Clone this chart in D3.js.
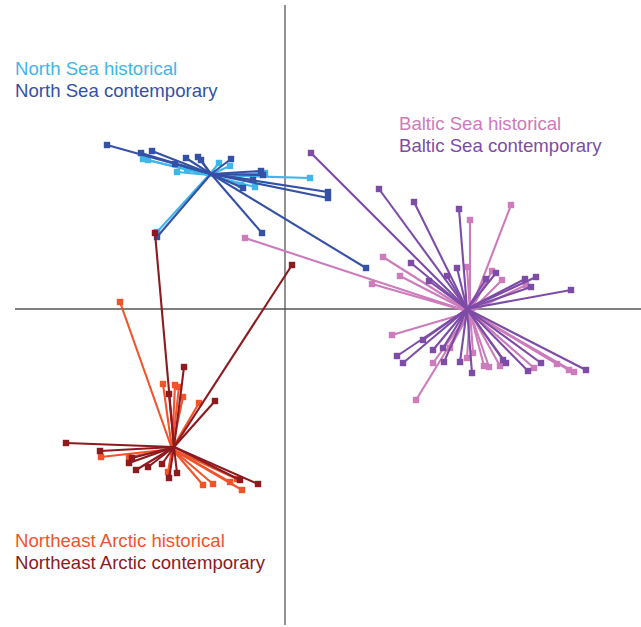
<!DOCTYPE html>
<html>
<head>
<meta charset="utf-8">
<script src="https://cdn.jsdelivr.net/npm/d3@7"></script>
<style>
  html, body { margin: 0; padding: 0; background: #fff; }
  svg { display: block; }
  text { font-family: "Liberation Sans", Arial, Helvetica, sans-serif; }
</style>
</head>
<body>
<svg id="chart" width="641" height="627"></svg>
<script>
// Ordination scores: each group is drawn as spokes from its centroid to individual samples.
const groups = ["North Sea historical", "North Sea contemporary",
                "Baltic Sea historical", "Baltic Sea contemporary",
                "Northeast Arctic historical", "Northeast Arctic contemporary"];

const colors = ["#3fb6e8", "#3551a6", "#cc7bbb", "#7d4ca7", "#f2532a", "#8c1a1f"];

const centroids = [[-7.6, 13.4], [-7.4, 13.5], [18.5, -0.3], [18.2, 0.0], [-11.3, -14.0], [-11.1, -13.8]];

const northSeaHistorical = [
  [-14.2, 15.0], [-13.7, 14.9], [-10.8, 13.7], [-9.8, 13.9], [-5.5, 14.3], [-4.4, 12.4],
  [-3.0, 12.2], [-2.0, 13.6], [2.5, 13.1], [-12.8, 7.7], [-6.6, 14.6]
];
const northSeaContemporary = [
  [-17.8, 16.4], [-14.4, 15.6], [-13.3, 15.8], [-11.0, 14.5], [-9.9, 15.1], [-8.7, 15.2],
  [-5.4, 15.0], [-2.4, 13.8], [-3.2, 12.9], [-4.2, 12.1], [4.3, 11.7], [4.3, 11.1],
  [-2.3, 7.6], [-12.8, 7.2], [8.1, 4.1], [-8.4, 14.9], [-2.2, 13.4]
];
const balticHistorical = [
  [-4.0, 7.1], [22.6, 10.4], [18.5, 8.9], [9.8, 5.2], [11.5, 3.3], [8.7, 2.5],
  [18.2, 4.2], [20.7, 3.8], [21.7, 2.9], [24.1, 2.4], [10.7, -2.6], [14.8, -5.4],
  [16.5, -3.9], [18.2, -4.9], [18.8, -4.4], [19.9, -5.7], [20.4, -5.8], [21.5, -5.7],
  [24.9, -5.9], [27.2, -5.5], [28.4, -6.1], [28.9, -6.3], [13.1, -9.1]
];
const balticContemporary = [
  [2.6, 15.6], [9.4, 12.0], [12.9, 10.7], [17.4, 10.0], [12.6, 4.6], [14.4, 2.8],
  [16.2, 3.3], [17.2, 4.1], [20.1, 3.0], [21.1, 3.6], [24.0, 3.0], [25.1, 3.2],
  [24.6, 2.2], [28.6, 1.9], [11.2, -4.7], [11.8, -5.4], [13.8, -3.1], [14.8, -4.1],
  [15.8, -3.9], [15.9, -5.3], [17.5, -5.3], [18.7, -6.4], [21.8, -5.1], [22.1, -5.4],
  [25.6, -5.4], [24.3, -6.2], [30.1, -6.1]
];
const arcticHistorical = [
  [-16.5, 0.7], [-12.2, -7.5], [-11.0, -7.6], [-10.6, -7.8], [-10.2, -8.8], [-8.6, -9.4],
  [-18.4, -14.8], [-15.6, -14.8], [-11.7, -16.3], [-8.2, -17.6], [-7.2, -17.5],
  [-4.3, -18.1], [-4.8, -17.0], [-5.5, -17.3]
];
const arcticContemporary = [
  [-13.0, 7.6], [0.7, 4.4], [-10.1, -5.8], [-11.6, -8.5], [-7.0, -9.2], [-21.9, -13.4],
  [-18.5, -14.2], [-15.6, -15.4], [-14.9, -16.1], [-13.7, -15.8], [-12.3, -15.5],
  [-11.6, -16.9], [-10.8, -16.4], [-2.7, -17.5], [-4.5, -17.1], [-15.3, -14.9]
];

const samples = [northSeaHistorical, northSeaContemporary, balticHistorical,
                 balticContemporary, arcticHistorical, arcticContemporary];

// Legend label anchors (in score units)
const labelPos = [[-27, 23.4], [-27, 21.2], [11.4, 17.9], [11.4, 15.7], [-27, -23.8], [-27, -26.0]];

const svg = d3.select("#chart");
const x = d3.scaleLinear().domain([-27, 35.6]).range([15, 641]);
const y = d3.scaleLinear().domain([30.4, -31.6]).range([5, 625]);

// Axes through the origin
svg.append("line")
  .attr("x1", x(0)).attr("x2", x(0)).attr("y1", y(30.4)).attr("y2", y(-31.6))
  .attr("stroke", "#555").attr("stroke-width", 1.3);
svg.append("line")
  .attr("x1", x(-27)).attr("x2", x(35.6)).attr("y1", y(0)).attr("y2", y(0))
  .attr("stroke", "#555").attr("stroke-width", 1.3);

groups.forEach((g, i) => {
  const c = centroids[i];
  const layer = svg.append("g").attr("class", "group");
  layer.selectAll("line").data(samples[i]).join("line")
    .attr("x1", x(c[0])).attr("y1", y(c[1]))
    .attr("x2", d => x(d[0])).attr("y2", d => y(d[1]))
    .attr("stroke", colors[i]).attr("stroke-width", 2.1);
  layer.selectAll("rect").data(samples[i]).join("rect")
    .attr("x", d => x(d[0]) - 3.2).attr("y", d => y(d[1]) - 3.2)
    .attr("width", 6.4).attr("height", 6.4)
    .attr("fill", colors[i]);
  svg.append("text")
    .attr("x", x(labelPos[i][0])).attr("y", y(labelPos[i][1]))
    .attr("fill", colors[i]).attr("font-size", 18.6)
    .text(g);
});
</script>
</body>
</html>
